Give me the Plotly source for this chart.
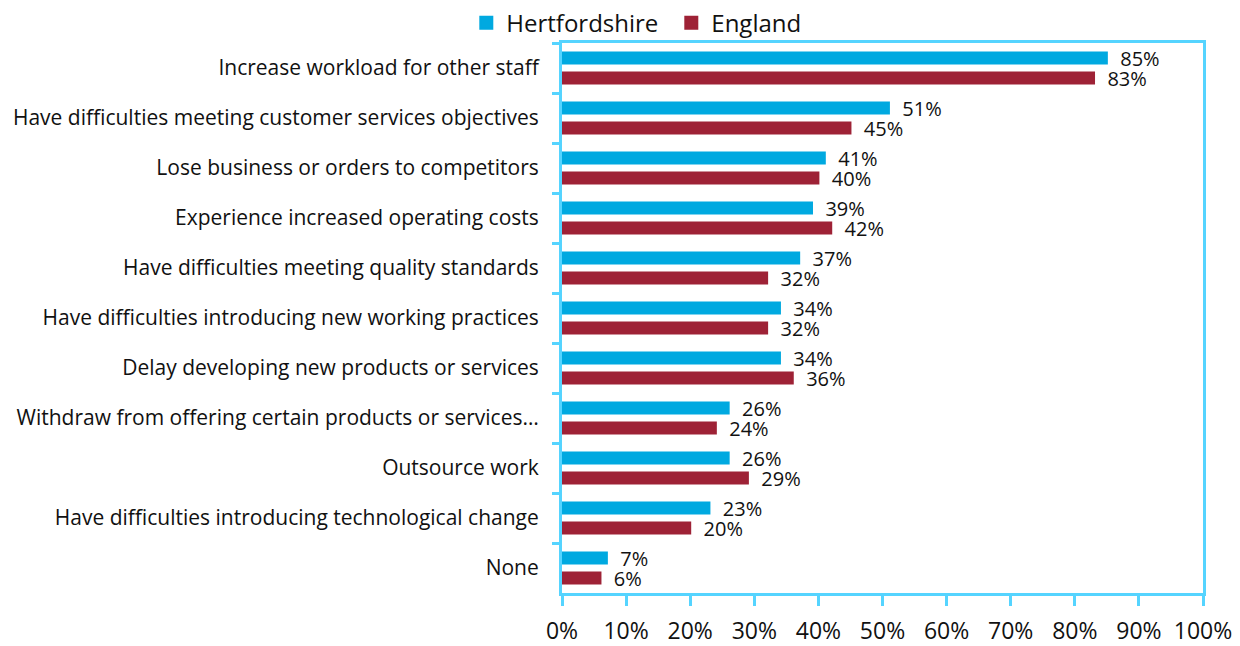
import plotly.graph_objects as go

categories = [
    "Increase workload for other staff",
    "Have difficulties meeting customer services objectives",
    "Lose business or orders to competitors",
    "Experience increased operating costs",
    "Have difficulties meeting quality standards",
    "Have difficulties introducing new working practices",
    "Delay developing new products or services",
    "Withdraw from offering certain products or services…",
    "Outsource work",
    "Have difficulties introducing technological change",
    "None",
]
hertfordshire = [85, 51, 41, 39, 37, 34, 34, 26, 26, 23, 7]
england = [83, 45, 40, 42, 32, 32, 36, 24, 29, 20, 6]
x_ticks = list(range(0, 101, 10))

FONT = "'Open Sans', Lato, sans-serif"
BORDER = "#55D4FF"
BLUE = "#00A9E0"
RED = "#9E2236"
PAD = "\u00a0\u00a0"

fig = go.Figure()
fig.add_trace(go.Bar(
    y=categories, x=hertfordshire, name="Hertfordshire", orientation="h",
    marker=dict(color=BLUE, line=dict(color=BLUE, width=2)),
    text=[f"{PAD}{v}%" for v in hertfordshire], textposition="outside",
    constraintext="none",
    textfont=dict(size=20, color="#111111", family=FONT), cliponaxis=False,
))
fig.add_trace(go.Bar(
    y=categories, x=england, name="England", orientation="h",
    marker=dict(color=RED, line=dict(color=RED, width=2)),
    text=[f"{PAD}{v}%" for v in england], textposition="outside",
    constraintext="none",
    textfont=dict(size=20, color="#111111", family=FONT), cliponaxis=False,
))

fig.update_layout(
    width=1232, height=638,
    margin=dict(l=554, r=37, t=35, b=53, autoexpand=False),
    paper_bgcolor="white", plot_bgcolor="white",
    barmode="group", bargap=0.2, bargroupgap=0.45,
    font=dict(family=FONT, size=20, color="#111111"),
    showlegend=True,
    legend=dict(orientation="h", xref="container", x=0.372, xanchor="left",
                yref="paper", y=1.036, yanchor="middle",
                font=dict(size=24), traceorder="normal", itemwidth=30,
                entrywidth=160, entrywidthmode="pixels",
                bgcolor="rgba(0,0,0,0)"),
)
fig.update_xaxes(
    range=[0, 100], tickvals=x_ticks, ticktext=[f"{v}%" for v in x_ticks],
    showgrid=False, zeroline=False, automargin=False,
    showline=True, linecolor=BORDER, linewidth=3, mirror=True,
    ticks="outside", ticklen=10, tickwidth=3, tickcolor=BORDER,
    tickfont=dict(size=23), ticklabelstandoff=5,
)
fig.update_yaxes(
    categoryorder="array", categoryarray=categories, autorange="reversed",
    showgrid=False, zeroline=False, automargin=False,
    showline=True, linecolor=BORDER, linewidth=3, mirror=True,
    ticks="outside", ticklen=7, tickwidth=3, tickcolor=BORDER,
    tickson="boundaries", ticklabelstandoff=16,
    tickfont=dict(size=21),
)

fig.write_html("out.html")
